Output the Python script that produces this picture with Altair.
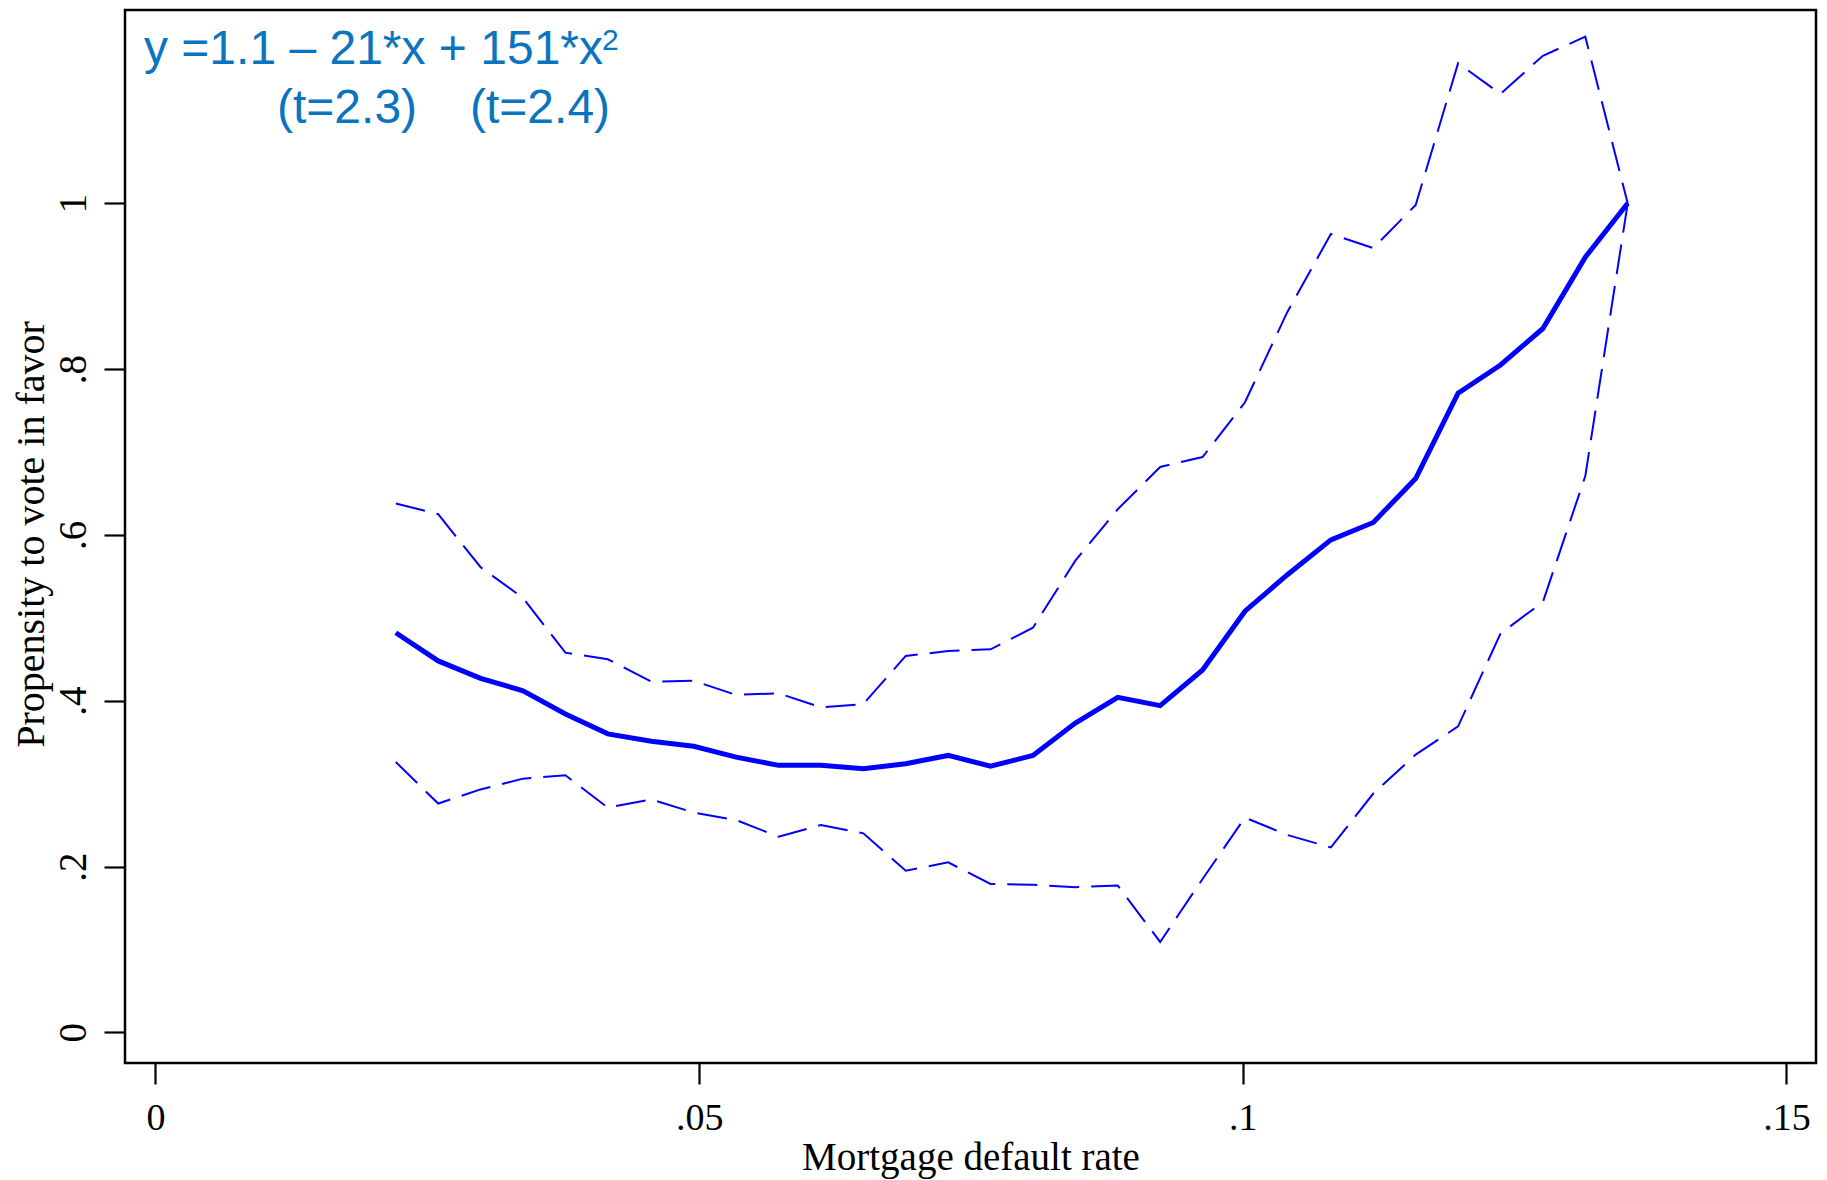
import altair as alt
import pandas as pd

# ---- data ----
x_vals = [0.0221, 0.0260, 0.0299, 0.0338, 0.0377, 0.0416, 0.0456, 0.0495, 0.0534, 0.0573,
          0.0612, 0.0651, 0.0690, 0.0729, 0.0768, 0.0807, 0.0846, 0.0885, 0.0924, 0.0963,
          0.1002, 0.1041, 0.1081, 0.1120, 0.1159, 0.1198, 0.1237, 0.1276, 0.1315, 0.1354]
fit_vals = [0.482, 0.448, 0.427, 0.412, 0.384, 0.360, 0.351, 0.345, 0.332, 0.322,
            0.322, 0.318, 0.324, 0.334, 0.321, 0.334, 0.373, 0.404, 0.394, 0.437,
            0.508, 0.552, 0.594, 0.615, 0.668, 0.771, 0.805, 0.849, 0.935, 1.000]
upper_vals = [0.638, 0.625, 0.561, 0.524, 0.458, 0.450, 0.423, 0.424, 0.407, 0.409,
              0.392, 0.396, 0.454, 0.460, 0.462, 0.488, 0.569, 0.631, 0.682, 0.694,
              0.760, 0.869, 0.963, 0.946, 0.998, 1.169, 1.132, 1.178, 1.201, 1.000]
lower_vals = [0.326, 0.276, 0.293, 0.306, 0.310, 0.271, 0.281, 0.265, 0.256, 0.236,
              0.250, 0.240, 0.195, 0.205, 0.179, 0.178, 0.175, 0.177, 0.109, 0.185,
              0.259, 0.238, 0.223, 0.288, 0.335, 0.369, 0.481, 0.519, 0.671, 1.000]

x_ticks = [0, 0.05, 0.1, 0.15]
x_tick_labels = ["0", ".05", ".1", ".15"]
y_ticks = [0, 0.2, 0.4, 0.6, 0.8, 1.0]
y_tick_labels = ["0", ".2", ".4", ".6", ".8", "1"]

x_title = "Mortgage default rate"
y_title = "Propensity to vote in favor"
eq_line = "y =1.1 \u2013 21*x + 151*x"
eq_sup = "2"
t_labels = ["(t=2.3)", "(t=2.4)"]


def label_expr(ticks, labels):
    expr = "''"
    for t, l in reversed(list(zip(ticks, labels))):
        expr = f"abs(datum.value - {t}) < 1e-6 ? '{l}' : ({expr})"
    return expr


df = pd.DataFrame({"x": x_vals, "fit": fit_vals, "upper": upper_vals, "lower": lower_vals})
one = pd.DataFrame({"a": [0]})

PLOT_W = 1691
PLOT_H = 1053
BLUE = "#0000ff"
TEXT_BLUE = "#0a74bf"
SERIF = "Liberation Serif"
SANS = "Liberation Sans"

x_scale = alt.Scale(domain=[-0.002805, 0.152718], nice=False, zero=False)
y_scale = alt.Scale(domain=[-0.03703, 1.2332], nice=False, zero=False)

x_axis = alt.Axis(
    title=x_title, values=x_ticks, labelExpr=label_expr(x_ticks, x_tick_labels),
    grid=False, domain=False, tickSize=21, tickWidth=2.2, tickColor="black",
    labelFont=SERIF, labelFontSize=38, labelColor="black", labelPadding=45,
    labelBaseline="alphabetic", labelAlign="center", labelOverlap=False, labelFlush=False,
    titleFont=SERIF, titleFontSize=39, titleFontWeight="normal", titleColor="black",
    titleBaseline="alphabetic", titleY=106,
)
y_axis = alt.Axis(
    title=y_title, values=y_ticks, labelExpr=label_expr(y_ticks, y_tick_labels),
    grid=False, domain=False, tickSize=21, tickWidth=2.2, tickColor="black",
    labelFont=SERIF, labelFontSize=39, labelColor="black", labelPadding=19,
    labelAngle=270, labelAlign="center", labelBaseline="alphabetic",
    labelOverlap=False, labelFlush=False,
    titleFont=SERIF, titleFontSize=40, titleFontWeight="normal", titleColor="black",
    titleAngle=270, titleAlign="center", titleBaseline="alphabetic",
    titleX=-82, titleY=524,
)

X = alt.X("x:Q", scale=x_scale, axis=x_axis)

fit_line = alt.Chart(df).mark_line(color=BLUE, strokeWidth=5).encode(
    x=X, y=alt.Y("fit:Q", scale=y_scale, axis=y_axis))
upper_line = alt.Chart(df).mark_line(color=BLUE, strokeWidth=2, strokeDash=[30, 12]).encode(
    x=X, y=alt.Y("upper:Q", scale=y_scale, axis=y_axis))
lower_line = alt.Chart(df).mark_line(color=BLUE, strokeWidth=2, strokeDash=[30, 12]).encode(
    x=X, y=alt.Y("lower:Q", scale=y_scale, axis=y_axis))

txt = dict(font=SANS, fontSize=48, color=TEXT_BLUE, align="left", baseline="alphabetic")
eq = alt.Chart(one).mark_text(text=eq_line, **txt).encode(
    x=alt.value(19), y=alt.value(54))
sup = alt.Chart(one).mark_text(text=eq_sup, font=SANS, fontSize=30, color=TEXT_BLUE,
                               align="left", baseline="alphabetic").encode(
    x=alt.value(477), y=alt.value(40))
t1 = alt.Chart(one).mark_text(text=t_labels[0], **txt).encode(
    x=alt.value(152), y=alt.value(113))
t2 = alt.Chart(one).mark_text(text=t_labels[1], **txt).encode(
    x=alt.value(345), y=alt.value(113))

chart = alt.layer(upper_line, lower_line, fit_line, eq, sup, t1, t2).properties(
    width=PLOT_W, height=PLOT_H,
    autosize=alt.AutoSizeParams(type="none"),
    padding={"left": 117, "top": 2, "right": 2, "bottom": 118},
    background="white",
).configure_view(stroke="black", strokeWidth=2.5)

chart.save("out.html", embed_options={"renderer": "svg", "actions": False})
